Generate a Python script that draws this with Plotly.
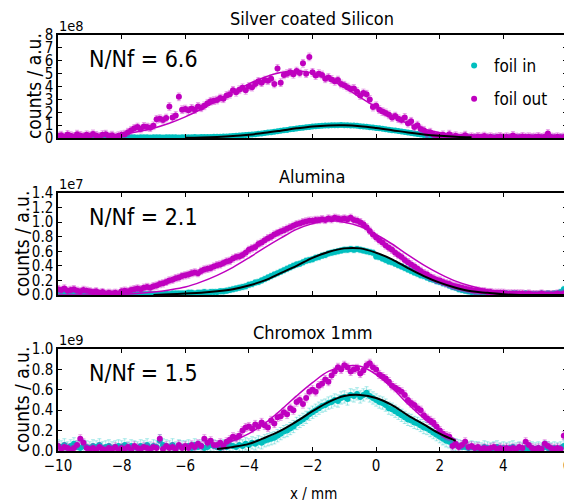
import plotly.graph_objects as go

# ---------------- data ----------------
# sampling positions of the scan (mm), 0.1 mm steps from -10 to 6
XS = [round(-10 + 0.1 * i, 1) for i in range(161)]

PANEL_TITLES = ["Silver coated Silicon", "Alumina", "Chromox 1mm"]
RATIO_LABELS = ["N/Nf = 6.6", "N/Nf = 2.1", "N/Nf = 1.5"]
SCALE_LABELS = ["1e8", "1e7", "1e9"]
Y_MAX = [8, 1.4, 1.0]
Y_DTICK = [1, 0.2, 0.2]
X_TICKS = [-10, -8, -6, -4, -2, 0, 2, 4, 6]

# --- Silver coated Silicon (units of 1e8) ---
SILVER_OUT = [
    0.15, 0.22, 0.10, 0.28, 0.18, 0.12, 0.30, 0.20, 0.14, 0.25,
    0.18, 0.32, 0.20, 0.12, 0.26, 0.30, 0.15, 0.22, 0.10, 0.18,
    0.25, 0.30, 0.45, 0.60, 0.75, 0.85, 0.70, 0.90, 0.85, 0.80,
    0.95, 1.45, 1.50, 1.40, 1.55, 2.45, 1.60, 1.75, 3.20, 2.20,
    2.25, 2.15, 2.30, 2.20, 2.45, 2.35, 2.50, 2.70, 2.85, 2.90,
    2.95, 3.10, 3.05, 3.30, 3.40, 3.70, 3.55, 3.75, 3.90, 3.70,
    4.00, 3.95, 4.20, 4.40, 4.30, 4.50, 4.45, 4.60, 4.20, 5.40,
    4.30, 4.90, 5.00, 5.10, 4.95, 5.20, 5.05, 5.80, 5.00, 6.30,
    5.10, 4.85, 5.00, 4.90, 4.60, 4.70, 4.55, 4.40, 4.50, 4.20,
    4.10, 3.95, 3.80, 3.85, 3.60, 3.30, 3.50, 3.40, 3.00, 2.40,
    2.50, 2.20, 2.05, 1.95, 1.80, 1.60, 1.70, 1.50, 1.40, 1.60,
    1.15, 1.30, 0.85, 1.00, 0.70, 0.60, 0.35, 0.45, 0.25, 0.20,
    0.15, 0.25, 0.10, 0.30, 0.12, 0.18, 0.08, 0.10, 0.22, 0.05,
    0.10, 0.05, 0.12, 0.08, 0.15, 0.06, 0.10, 0.04, 0.08, 0.12,
    0.05, 0.10, 0.06, 0.20, 0.08, 0.05, 0.12, 0.07, 0.10, 0.06,
    0.08, 0.12, 0.05, 0.10, 0.35, 0.08, 0.06, 0.10, 0.05, 0.08,
    0.10,
]
SILVER_IN = [
    0.05, 0.04, 0.06, 0.05, 0.03, 0.05, 0.06, 0.04, 0.05, 0.05,
    0.04, 0.06, 0.05, 0.05, 0.04, 0.06, 0.05, 0.04, 0.05, 0.06,
    0.05, 0.04, 0.06, 0.05, 0.05, 0.04, 0.06, 0.05, 0.05, 0.04,
    0.05, 0.06, 0.05, 0.04, 0.06, 0.05, 0.05, 0.06, 0.04, 0.05,
    0.06, 0.05, 0.06, 0.07, 0.06, 0.07, 0.08, 0.07, 0.08, 0.09,
    0.09, 0.10, 0.11, 0.12, 0.14, 0.15, 0.17, 0.19, 0.21, 0.23,
    0.26, 0.28, 0.30, 0.33, 0.35, 0.39, 0.42, 0.45, 0.48, 0.52,
    0.56, 0.60, 0.63, 0.67, 0.70, 0.74, 0.77, 0.80, 0.83, 0.86,
    0.89, 0.91, 0.93, 0.95, 0.97, 0.98, 0.99, 1.00, 1.00, 1.01,
    1.00, 0.99, 0.98, 0.97, 0.95, 0.92, 0.90, 0.87, 0.84, 0.81,
    0.78, 0.75, 0.71, 0.68, 0.65, 0.61, 0.58, 0.54, 0.50, 0.47,
    0.42, 0.38, 0.35, 0.31, 0.28, 0.24, 0.21, 0.18, 0.15, 0.12,
    0.10, 0.08, 0.07, 0.06, 0.05, 0.05, 0.04, 0.05, 0.04, 0.05,
    0.04, 0.05, 0.04, 0.05, 0.04, 0.04, 0.05, 0.04, 0.05, 0.04,
    0.05, 0.04, 0.05, 0.04, 0.04, 0.05, 0.04, 0.05, 0.04, 0.04,
    0.05, 0.04, 0.04, 0.05, 0.04, 0.05, 0.04, 0.04, 0.05, 0.04,
    0.04,
]
SILVER_ERR_IN = 0.08
SILVER_ERR_OUT = 0.30
SILVER_FIT_OUT_X = [-10, -9.5, -9, -8.5, -8, -7.5, -7, -6.5, -6, -5.5, -5, -4.5, -4, -3.5, -3, -2.5,
                    -2, -1.5, -1, -0.5, 0, 0.5, 1, 1.5, 2, 2.5, 3, 3.5, 4, 4.5, 5, 5.5, 6]
SILVER_FIT_OUT_Y = [0.03, 0.05, 0.10, 0.17, 0.30, 0.49, 0.76, 1.14, 1.64, 2.23, 2.88, 3.56, 4.20, 4.73, 5.08, 5.20,
                    5.04, 4.59, 3.93, 3.15, 2.38, 1.69, 1.12, 0.70, 0.41, 0.23, 0.12, 0.06, 0.03, 0.01, 0.0, 0.0, 0.0]
SILVER_FIT_IN_X = [-6, -5.5, -5, -4.5, -4, -3.5, -3, -2.5, -2, -1.5, -1, -0.5, 0, 0.5, 1, 1.5, 2, 2.5, 3]
SILVER_FIT_IN_Y = [0.02, 0.04, 0.08, 0.15, 0.26, 0.40, 0.57, 0.75, 0.90, 0.98, 0.99, 0.92, 0.78, 0.61, 0.43, 0.28,
                   0.17, 0.09, 0.05]

# --- Alumina (units of 1e7) ---
ALUMINA_OUT = [
    0.08, 0.07, 0.09, 0.06, 0.07, 0.08, 0.06, 0.05, 0.07, 0.06,
    0.05, 0.04, 0.05, 0.03, 0.04, 0.02, 0.03, 0.02, 0.03, 0.02,
    0.05, 0.06, 0.05, 0.07, 0.08, 0.09, 0.08, 0.10, 0.11, 0.10,
    0.12, 0.13, 0.15, 0.16, 0.18, 0.20, 0.21, 0.23, 0.24, 0.26,
    0.27, 0.28, 0.30, 0.31, 0.30, 0.33, 0.35, 0.36, 0.37, 0.39,
    0.41, 0.42, 0.44, 0.46, 0.47, 0.50, 0.52, 0.53, 0.55, 0.58,
    0.62, 0.64, 0.66, 0.70, 0.72, 0.75, 0.78, 0.80, 0.83, 0.85,
    0.87, 0.89, 0.91, 0.93, 0.95, 0.97, 0.98, 1.00, 1.01, 1.02,
    1.02, 1.03, 1.03, 1.04, 1.03, 1.05, 1.04, 1.06, 1.05, 1.04,
    1.05, 1.04, 1.06, 1.03, 1.02, 1.00, 0.97, 0.93, 0.88, 0.83,
    0.79, 0.75, 0.72, 0.68, 0.65, 0.62, 0.58, 0.55, 0.52, 0.48,
    0.45, 0.42, 0.39, 0.36, 0.33, 0.30, 0.28, 0.25, 0.23, 0.21,
    0.20, 0.18, 0.16, 0.15, 0.13, 0.12, 0.11, 0.10, 0.09, 0.08,
    0.07, 0.06, 0.06, 0.05, 0.05, 0.04, 0.04, 0.03, 0.03, 0.03,
    0.03, 0.02, 0.02, 0.02, 0.02, 0.02, 0.02, 0.01, 0.02, 0.01,
    0.01, 0.01, 0.02, 0.01, 0.01, 0.01, 0.01, 0.02, 0.01, 0.02,
    0.03,
]
ALUMINA_IN = [
    0.02, 0.01, 0.02, 0.01, 0.02, 0.01, 0.01, 0.02, 0.01, 0.01,
    0.01, 0.01, 0.02, 0.01, 0.01, 0.00, 0.01, 0.01, 0.00, 0.01,
    0.01, 0.00, 0.01, 0.01, 0.00, 0.01, 0.01, 0.01, 0.01, 0.01,
    0.01, 0.01, 0.01, 0.01, 0.02, 0.01, 0.02, 0.02, 0.02, 0.02,
    0.02, 0.03, 0.03, 0.02, 0.03, 0.03, 0.04, 0.03, 0.04, 0.04,
    0.04, 0.05, 0.05, 0.06, 0.07, 0.08, 0.09, 0.10, 0.11, 0.12,
    0.14, 0.15, 0.17, 0.18, 0.20, 0.22, 0.24, 0.26, 0.28, 0.30,
    0.32, 0.34, 0.36, 0.38, 0.40, 0.42, 0.43, 0.45, 0.47, 0.48,
    0.49, 0.51, 0.52, 0.54, 0.55, 0.57, 0.58, 0.59, 0.60, 0.61,
    0.62, 0.62, 0.63, 0.62, 0.63, 0.62, 0.61, 0.60, 0.59, 0.58,
    0.53, 0.52, 0.50, 0.48, 0.46, 0.45, 0.43, 0.41, 0.39, 0.37,
    0.35, 0.33, 0.31, 0.29, 0.27, 0.26, 0.24, 0.22, 0.21, 0.19,
    0.18, 0.16, 0.15, 0.13, 0.11, 0.10, 0.08, 0.07, 0.06, 0.05,
    0.04, 0.04, 0.03, 0.03, 0.03, 0.02, 0.02, 0.02, 0.02, 0.02,
    0.02, 0.02, 0.01, 0.02, 0.02, 0.01, 0.01, 0.02, 0.01, 0.01,
    0.01, 0.01, 0.02, 0.01, 0.02, 0.01, 0.02, 0.02, 0.04, 0.08,
    0.14,
]
ALUMINA_ERR_IN = 0.04
ALUMINA_ERR_OUT = 0.05
ALUMINA_FIT_OUT_X = SILVER_FIT_OUT_X
ALUMINA_FIT_OUT_Y = [0.0, 0.0, 0.0, 0.01, 0.01, 0.02, 0.04, 0.07, 0.11, 0.18, 0.27, 0.38, 0.51, 0.65, 0.78, 0.90,
                     0.98, 1.02, 1.00, 0.94, 0.83, 0.70, 0.55, 0.41, 0.29, 0.19, 0.12, 0.07, 0.04, 0.02, 0.01, 0.0, 0.0]
ALUMINA_FIT_IN_X = [-7, -6.5, -6, -5.5, -5, -4.5, -4, -3.5, -3, -2.5, -2, -1.5, -1, -0.5, 0, 0.5, 1, 1.5, 2,
                    2.5, 3, 3.5, 4, 4.5, 5, 5.5, 6]
ALUMINA_FIT_IN_Y = [0.0, 0.01, 0.02, 0.03, 0.05, 0.08, 0.13, 0.20, 0.30, 0.40, 0.51, 0.59, 0.64, 0.64, 0.58, 0.49,
                    0.37, 0.26, 0.17, 0.10, 0.05, 0.03, 0.01, 0.0, 0.0, 0.0, 0.0]

# --- Chromox 1mm (units of 1e9) ---
CHROMOX_OUT = [
    0.05, 0.02, 0.04, 0.03, 0.01, 0.03, 0.06, 0.12, 0.08, 0.03,
    0.02, 0.03, 0.01, 0.04, 0.02, 0.01, 0.03, 0.02, 0.04, 0.01,
    0.03, 0.02, 0.04, 0.01, 0.05, 0.03, 0.02, 0.04, 0.03, 0.02,
    0.04, 0.03, 0.12, 0.02, 0.05, 0.03, 0.04, 0.02, 0.06, 0.03,
    0.05, 0.03, 0.06, 0.04, 0.07, 0.05, 0.12, 0.08, 0.10, 0.06,
    0.06, 0.08, 0.05, 0.09, 0.11, 0.14, 0.13, 0.15, 0.20, 0.23,
    0.24, 0.22, 0.26, 0.24, 0.28, 0.25, 0.23, 0.30, 0.27, 0.33,
    0.34, 0.38, 0.36, 0.42, 0.40, 0.48, 0.50, 0.46, 0.52, 0.58,
    0.60, 0.58, 0.64, 0.66, 0.70, 0.68, 0.74, 0.78, 0.82, 0.80,
    0.84, 0.82, 0.78, 0.80, 0.81, 0.76, 0.79, 0.84, 0.86, 0.82,
    0.80, 0.75, 0.73, 0.71, 0.68, 0.64, 0.62, 0.60, 0.58, 0.55,
    0.50, 0.47, 0.45, 0.42, 0.40, 0.35, 0.32, 0.30, 0.28, 0.24,
    0.20, 0.17, 0.15, 0.14, 0.05, 0.07, 0.04, 0.06, 0.09, 0.04,
    0.05, 0.03, 0.04, 0.02, 0.03, 0.02, 0.03, 0.04, 0.02, 0.03,
    0.02, 0.03, 0.02, 0.03, 0.02, 0.04, 0.03, 0.09, 0.06, 0.03,
    0.02, 0.03, 0.02, 0.07, 0.05, 0.03, 0.02, 0.03, 0.02, 0.15,
    0.25,
]
CHROMOX_IN = [
    0.05, 0.04, 0.06, 0.03, 0.05, 0.07, 0.04, 0.03, 0.05, 0.04,
    0.03, 0.05, 0.04, 0.06, 0.03, 0.04, 0.05, 0.03, 0.04, 0.05,
    0.04, 0.06, 0.03, 0.05, 0.04, 0.03, 0.05, 0.04, 0.06, 0.03,
    0.05, 0.04, 0.10, 0.06, 0.05, 0.04, 0.06, 0.03, 0.05, 0.04,
    0.04, 0.05, 0.03, 0.06, 0.04, 0.05, 0.03, 0.04, 0.06, 0.05,
    0.04, 0.03, 0.05, 0.04, 0.06, 0.05, 0.04, 0.06, 0.05, 0.07,
    0.06, 0.08, 0.07, 0.09, 0.08, 0.10, 0.11, 0.12, 0.13, 0.15,
    0.17, 0.19, 0.20, 0.22, 0.24, 0.27, 0.29, 0.31, 0.33, 0.36,
    0.38, 0.40, 0.42, 0.44, 0.45, 0.47, 0.48, 0.50, 0.49, 0.52,
    0.53, 0.51, 0.55, 0.54, 0.56, 0.53, 0.55, 0.57, 0.54, 0.52,
    0.50, 0.48, 0.47, 0.45, 0.42, 0.41, 0.39, 0.37, 0.35, 0.33,
    0.31, 0.30, 0.28, 0.27, 0.25, 0.23, 0.22, 0.20, 0.18, 0.16,
    0.14, 0.12, 0.10, 0.09, 0.07, 0.06, 0.05, 0.04, 0.04, 0.03,
    0.04, 0.03, 0.03, 0.02, 0.04, 0.03, 0.02, 0.03, 0.04, 0.02,
    0.03, 0.02, 0.03, 0.04, 0.02, 0.03, 0.02, 0.03, 0.02, 0.03,
    0.02, 0.03, 0.02, 0.04, 0.03, 0.02, 0.03, 0.02, 0.03, 0.05,
    0.10,
]
CHROMOX_ERR_IN = 0.06
CHROMOX_ERR_OUT = 0.04
CHROMOX_FIT_X = [-5, -4.5, -4, -3.5, -3, -2.5, -2, -1.5, -1, -0.5, 0, 0.5, 1, 1.5, 2, 2.5]
CHROMOX_FIT_OUT_Y = [0.06, 0.10, 0.17, 0.27, 0.40, 0.54, 0.67, 0.78, 0.83, 0.83, 0.75, 0.62, 0.46, 0.32, 0.20, 0.11]
CHROMOX_FIT_IN_Y = [0.02, 0.04, 0.07, 0.13, 0.20, 0.29, 0.39, 0.48, 0.54, 0.55, 0.52, 0.45, 0.35, 0.26, 0.17, 0.10]

# ---------------- styling ----------------
FONT = "DejaVu Sans Condensed, Liberation Sans Narrow, DejaVu Sans"
CYAN = "#00bfbf"
MAGENTA = "#bf00bf"
CYAN_ERR = "rgba(0,191,191,0.35)"
MAGENTA_ERR = "rgba(191,0,191,0.35)"

PAGE_OFF = 8            # default body margin of the html page
W, H = 564, 495          # figure size so that it fills the 572x503 window
# target page-pixel extents of the plotting area
PLOT_LEFT, PLOT_RIGHT = 57.5, 567
PANEL_PX = [(35, 138), (193, 295), (349, 451)]
ML = PLOT_LEFT - PAGE_OFF
MR = W - (PLOT_RIGHT - PAGE_OFF)
MT = PANEL_PX[0][0] - PAGE_OFF
MB = H - (PANEL_PX[2][1] - PAGE_OFF)
PLOT_H = H - MT - MB
PLOT_W = W - ML - MR


def py(page_y):
    return (H - MB - (page_y - PAGE_OFF)) / PLOT_H


def px(page_x):
    return (page_x - PAGE_OFF - ML) / PLOT_W


panels = [
    (SILVER_IN, SILVER_OUT, SILVER_ERR_IN, SILVER_ERR_OUT,
     SILVER_FIT_IN_X, SILVER_FIT_IN_Y, SILVER_FIT_OUT_X, SILVER_FIT_OUT_Y),
    (ALUMINA_IN, ALUMINA_OUT, ALUMINA_ERR_IN, ALUMINA_ERR_OUT,
     ALUMINA_FIT_IN_X, ALUMINA_FIT_IN_Y, ALUMINA_FIT_OUT_X, ALUMINA_FIT_OUT_Y),
    (CHROMOX_IN, CHROMOX_OUT, CHROMOX_ERR_IN, CHROMOX_ERR_OUT,
     CHROMOX_FIT_X, CHROMOX_FIT_IN_Y, CHROMOX_FIT_X, CHROMOX_FIT_OUT_Y),
]

fig = go.Figure()
for i, (yin, yout, ein, eout, fxi, fyi, fxo, fyo) in enumerate(panels):
    xa = "x" if i == 0 else f"x{i + 1}"
    ya = "y" if i == 0 else f"y{i + 1}"
    fig.add_trace(go.Scatter(
        x=XS, y=yin, mode="markers", name="foil in", legendgroup="in",
        showlegend=(i == 0), xaxis=xa, yaxis=ya,
        marker=dict(color=CYAN, size=6),
        error_y=dict(type="constant", value=ein, color=CYAN_ERR, thickness=1, width=2)))
    fig.add_trace(go.Scatter(
        x=XS, y=yout, mode="markers", name="foil out", legendgroup="out",
        showlegend=(i == 0), xaxis=xa, yaxis=ya,
        marker=dict(color=MAGENTA, size=6),
        error_y=dict(type="constant", value=eout, color=MAGENTA_ERR, thickness=1, width=2)))
    fig.add_trace(go.Scatter(
        x=fxo, y=fyo, mode="lines", line=dict(color=MAGENTA, width=1.5, shape="spline"),
        showlegend=False, xaxis=xa, yaxis=ya, hoverinfo="skip"))
    fig.add_trace(go.Scatter(
        x=fxi, y=fyi, mode="lines", line=dict(color="black", width=2, shape="spline"),
        showlegend=False, xaxis=xa, yaxis=ya, hoverinfo="skip"))

axis_common = dict(showline=True, linecolor="black", linewidth=1.5, mirror="ticks",
                   ticks="inside", ticklen=4, tickcolor="black", showgrid=False,
                   zeroline=False, automargin=False,
                   tickfont=dict(family=FONT, size=15, color="black"))

layout = dict(
    width=W, height=H, margin=dict(l=ML, r=MR, t=MT, b=MB, autoexpand=False),
    paper_bgcolor="white", plot_bgcolor="white",
    font=dict(family=FONT, color="black"),
    showlegend=True,
    legend=dict(x=px(454), y=py(48), xanchor="left", yanchor="top",
                bgcolor="rgba(0,0,0,0)", font=dict(family=FONT, size=17),
                tracegroupgap=8, itemwidth=30),
)
annotations = []
for i in range(3):
    xk = "xaxis" if i == 0 else f"xaxis{i + 1}"
    yk = "yaxis" if i == 0 else f"yaxis{i + 1}"
    top, bot = PANEL_PX[i]
    layout[xk] = dict(axis_common, domain=[0, 1], range=[-10, 6], tickvals=X_TICKS,
                      showticklabels=(i == 2), anchor="y" if i == 0 else f"y{i + 1}")
    layout[yk] = dict(axis_common, domain=[py(bot), py(top)], range=[0, Y_MAX[i]],
                      dtick=Y_DTICK[i], tick0=0, tickformat="d" if i == 0 else ".1f",
                      tickfont=dict(family=FONT, size=15, color="black"),
                      anchor="x" if i == 0 else f"x{i + 1}")
    annotations.append(dict(text=PANEL_TITLES[i], xref="paper", yref="paper", x=px(312),
                            y=py(top - 17), xanchor="center", yanchor="middle", showarrow=False,
                            font=dict(family=FONT, size=18)))
    annotations.append(dict(text=SCALE_LABELS[i], xref="paper", yref="paper", x=px(56),
                            y=py(top - 9), xanchor="left", yanchor="middle", showarrow=False,
                            font=dict(family=FONT, size=14.5)))
    annotations.append(dict(text=RATIO_LABELS[i], xref="paper", yref="paper", x=px(143),
                            y=py(top + 24), xanchor="center", yanchor="middle", showarrow=False,
                            font=dict(family=FONT, size=23)))
    annotations.append(dict(text="counts / a.u.", xref="paper", yref="paper",
                            x=px(34 if i == 0 else 21), y=py((top + bot) / 2),
                            xanchor="center", yanchor="middle", textangle=-90, showarrow=False,
                            font=dict(family=FONT, size=19)))
annotations.append(dict(text="x / mm", xref="paper", yref="paper", x=px(313), y=py(494),
                        xanchor="center", yanchor="middle", showarrow=False,
                        font=dict(family=FONT, size=15)))
layout["annotations"] = annotations
fig.update_layout(**layout)

fig.write_html("out.html")
